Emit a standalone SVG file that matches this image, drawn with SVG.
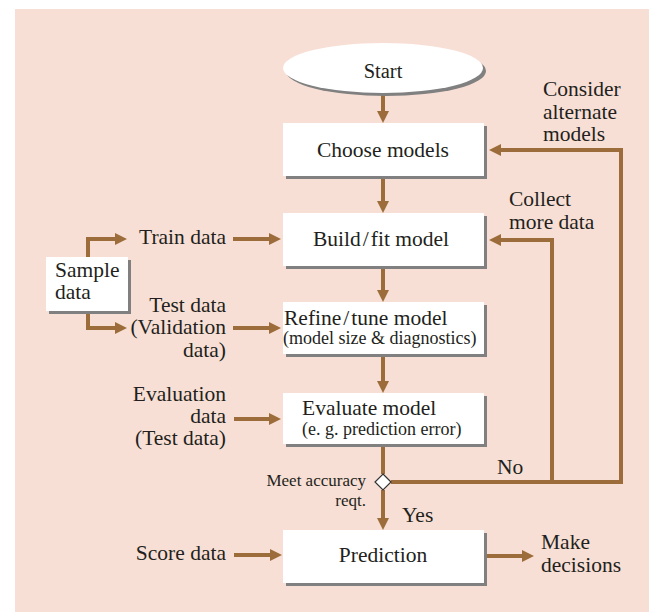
<svg xmlns="http://www.w3.org/2000/svg" width="649" height="612" viewBox="0 0 649 612">
<defs>
<marker id="ah" markerUnits="userSpaceOnUse" markerWidth="13" markerHeight="13" refX="8" refY="6" orient="auto">
<path d="M0,0 L12,6 L0,12 z" fill="#9C6D3A"/>
</marker>
<style>
text{font-family:"Liberation Serif","Times New Roman",serif;fill:#231F20;font-size:21.5px}
.sm{font-size:18px}
.e{text-anchor:end}
.m{text-anchor:middle}
.box{fill:#fff}
.sh{fill:#808080}
.c{fill:none;stroke:#9C6D3A;stroke-width:4}
.a{marker-end:url(#ah)}
</style>
</defs>
<rect x="0" y="0" width="649" height="612" fill="#fff"/>
<rect x="15" y="9" width="634" height="603" fill="#F8DFD5"/>

<g id="connectors">
<line class="c a" x1="383" y1="94" x2="383" y2="119"/>
<line class="c a" x1="383" y1="179" x2="383" y2="209"/>
<line class="c a" x1="383" y1="269" x2="383" y2="298"/>
<line class="c a" x1="383" y1="357" x2="383" y2="389"/>
<line class="c" x1="383" y1="447" x2="383" y2="474"/>
<line class="c a" x1="383" y1="490" x2="383" y2="526"/>
<path class="c a" d="M391,482 H621 V150 H493"/>
<path class="c a" d="M552,482 V240 H493"/>
<path class="c a" d="M88,257 V239 H123"/>
<path class="c a" d="M88,311 V328 H123"/>
<line class="c a" x1="233" y1="239" x2="277" y2="239"/>
<line class="c a" x1="233" y1="328" x2="277" y2="328"/>
<line class="c a" x1="234" y1="419" x2="277" y2="419"/>
<line class="c a" x1="234" y1="555" x2="278" y2="555"/>
<line class="c a" x1="487" y1="556" x2="530" y2="556"/>
</g>

<g id="start">
<ellipse cx="386" cy="71" rx="100" ry="25" class="sh"/>
<ellipse cx="383" cy="68" rx="100" ry="25" class="box"/>
<text x="383" y="78" class="m" style="font-size:20.5px">Start</text>
</g>

<g id="choose">
<rect x="286" y="126" width="201" height="53" class="sh"/>
<rect x="283" y="123" width="201" height="53" class="box"/>
<text x="383" y="157" class="m">Choose models</text>
</g>

<g id="build">
<rect x="286" y="216" width="201" height="53" class="sh"/>
<rect x="283" y="213" width="201" height="53" class="box"/>
<text x="381" y="246" class="m">Build<tspan dx="2">/</tspan><tspan dx="2">fit model</tspan></text>
</g>

<g id="refine">
<rect x="286" y="305" width="201" height="52" class="sh"/>
<rect x="283" y="302" width="201" height="52" class="box"/>
<text x="284" y="325">Refine<tspan dx="2">/</tspan><tspan dx="2">tune model</tspan></text>
<text x="283" y="344" class="sm">(model size &amp; diagnostics)</text>
</g>

<g id="evaluate">
<rect x="286" y="396" width="201" height="51" class="sh"/>
<rect x="283" y="393" width="201" height="51" class="box"/>
<text x="302" y="415">Evaluate model</text>
<text x="302" y="435" class="sm">(e. g. prediction error)</text>
</g>

<g id="decision">
<polygon points="383,474 391,482 383,490 375,482" fill="#fff" stroke="#333" stroke-width="1.2"/>
<text x="366" y="486" class="e" style="font-size:17px">Meet accuracy</text>
<text x="366" y="506" class="e" style="font-size:17px">reqt.</text>
<text x="402" y="522">Yes</text>
<text x="497" y="474">No</text>
</g>

<g id="prediction">
<rect x="286" y="533" width="201" height="53" class="sh"/>
<rect x="283" y="530" width="201" height="53" class="box"/>
<text x="383" y="562" class="m">Prediction</text>
</g>

<g id="sample">
<rect x="49" y="260" width="82" height="54" class="sh"/>
<rect x="46" y="257" width="82" height="54" class="box"/>
<text x="55" y="277">Sample</text>
<text x="55" y="299">data</text>
</g>

<g id="labels">
<text x="226" y="244" class="e">Train data</text>
<text x="226" y="312" class="e">Test data</text>
<text x="226" y="334" class="e">(Validation</text>
<text x="226" y="357" class="e">data)</text>
<text x="226" y="401" class="e">Evaluation</text>
<text x="226" y="423" class="e">data</text>
<text x="226" y="445" class="e">(Test data)</text>
<text x="226" y="560" class="e">Score data</text>
<text x="541" y="549">Make</text>
<text x="541" y="572">decisions</text>
<text x="543" y="96">Consider</text>
<text x="543" y="119">alternate</text>
<text x="543" y="141">models</text>
<text x="509" y="206">Collect</text>
<text x="509" y="229">more data</text>
</g>
</svg>
